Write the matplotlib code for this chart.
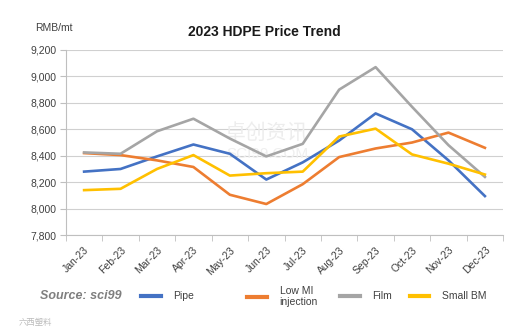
import matplotlib.pyplot as plt
from matplotlib.lines import Line2D

months = ["Jan-23", "Feb-23", "Mar-23", "Apr-23", "May-23", "Jun-23",
          "Jul-23", "Aug-23", "Sep-23", "Oct-23", "Nov-23", "Dec-23"]
pipe = [8280, 8300, 8395, 8485, 8415, 8220, 8350, 8515, 8720, 8600, 8365, 8095]
low_mi = [8420, 8405, 8365, 8315, 8105, 8035, 8185, 8390, 8455, 8500, 8575, 8460]
film = [8425, 8415, 8585, 8680, 8530, 8395, 8490, 8900, 9070, 8770, 8480, 8240]
small_bm = [8140, 8150, 8300, 8405, 8250, 8268, 8280, 8545, 8605, 8410, 8340, 8258]

series = [("Pipe", pipe, "#4472C4"),
          ("Low MI\ninjection", low_mi, "#ED7D31"),
          ("Film", film, "#A5A5A5"),
          ("Small BM", small_bm, "#FFC000")]

plt.rcParams['font.family'] = ['Liberation Sans', 'DejaVu Sans']

fig = plt.figure(figsize=(5.23, 3.33), dpi=100)
ax = fig.add_axes([0.126, 0.294, 0.836, 0.556])

x = list(range(len(months)))
handles = []
for name, vals, col in series:
    h, = ax.plot(x, vals, color=col, linewidth=1.9, label=name, zorder=3)
    handles.append(h)

ax.set_xlim(-0.5, len(months) - 0.5)
ax.set_ylim(7800, 9200)
ax.set_yticks(range(7800, 9201, 200))
ax.set_yticklabels([f"{v:,}" for v in range(7800, 9201, 200)], fontsize=7.5, color="#404040")
ax.yaxis.grid(True, color="#D0D0D0", linewidth=0.8)
ax.set_axisbelow(True)
ax.tick_params(axis='y', length=4, color="#BFBFBF", pad=3)

ax.set_xticks(x)
ax.set_xticklabels(months, rotation=45, ha='right', rotation_mode='anchor',
                   fontsize=7.5, color="#404040")
ax.tick_params(axis='x', length=0, pad=7)
ax.set_xticks([i - 0.5 for i in range(len(months) + 1)], minor=True)
ax.tick_params(axis='x', which='minor', length=4, color="#BFBFBF")

for s in ['top', 'right']:
    ax.spines[s].set_visible(False)
for s in ['left', 'bottom']:
    ax.spines[s].set_color("#BFBFBF")

fig.text(0.505, 0.905, "2023 HDPE Price Trend", ha='center', va='center',
         fontsize=10, fontweight='bold', color="#1a1a1a")
fig.text(0.067, 0.915, "RMB/mt", ha='left', va='center', fontsize=7.5, color="#404040")

# watermark
ax.text(0.46, 0.55, "卓创资讯", transform=ax.transAxes, ha='center', va='center',
        fontsize=15, color="#EDEDED", family=['Noto Sans CJK SC'], zorder=1)
ax.text(0.46, 0.44, "SCI99.COM", transform=ax.transAxes, ha='center', va='center',
        fontsize=11, color="#EFEFEF", zorder=1)

fig.text(0.077, 0.11, "Source: sci99", ha='left', va='center', fontsize=9,
         fontweight='bold', style='italic', color="#7F7F7F")

legend_x = [0.270, 0.473, 0.650, 0.783]
for h, lx in zip(handles, legend_x):
    lg = fig.legend(handles=[Line2D([], [], color=h.get_color(), linewidth=3)],
                    labels=[h.get_label()], loc='center left',
                    bbox_to_anchor=(lx, 0.11), frameon=False, fontsize=7.5,
                    handlelength=1.9, handletextpad=1.2, borderaxespad=0,
                    borderpad=0, labelspacing=0.1)
    for t in lg.get_texts():
        t.set_color("#404040")

fig.text(0.035, 0.033, "六西塑料", ha='left', va='center', fontsize=6,
         color="#BBBBBB", family=['Noto Sans CJK SC'])

fig.savefig("out.png", dpi=100)
